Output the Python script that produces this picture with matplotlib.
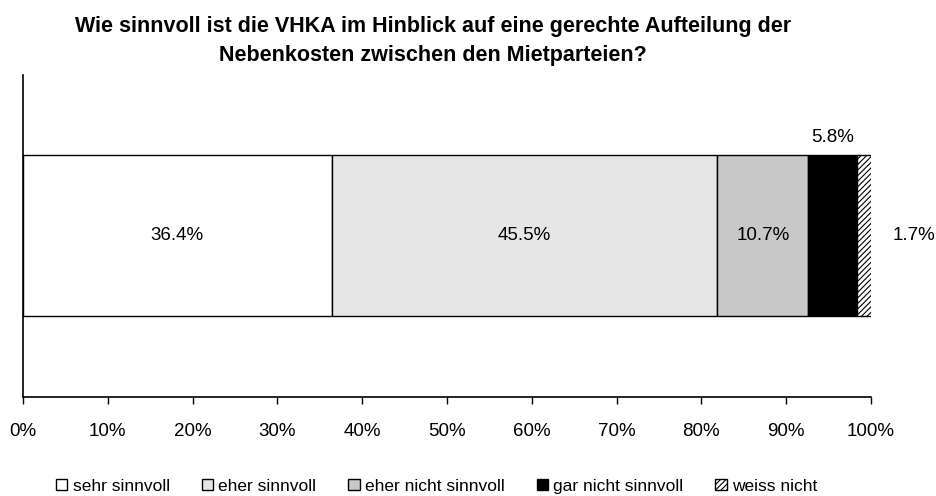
import matplotlib.pyplot as plt
from matplotlib.ticker import PercentFormatter

plt.rcParams['font.family'] = ['Liberation Sans', 'DejaVu Sans']
plt.rcParams['hatch.linewidth'] = 0.8

# Antworten und Anteile (Prozent)
kategorien = ['sehr sinnvoll', 'eher sinnvoll', 'eher nicht sinnvoll',
              'gar nicht sinnvoll', 'weiss nicht']
anteile = [36.4, 45.5, 10.7, 5.8, 1.7]
farben = ['#ffffff', '#e6e6e6', '#c8c8c8', '#000000', '#ffffff']
muster = ['', '', '', '', '//////']

fig = plt.figure(figsize=(9.37, 4.96), dpi=100)
ax = fig.add_axes([0.0245, 0.2, 0.905, 0.649])

links = 0.0
for name, wert, farbe, m in zip(kategorien, anteile, farben, muster):
    ax.barh(0, wert, left=links, height=1.0, color=farbe, edgecolor='black',
            linewidth=1.0, hatch=m, label=name)
    mitte = links + wert / 2
    if wert > 8:
        ax.text(mitte, 0, f'{wert:.1f}%', ha='center', va='center', fontsize=13.5)
    elif name == 'gar nicht sinnvoll':
        ax.text(mitte, 0.56, f'{wert:.1f}%', ha='center', va='bottom', fontsize=13.5)
    else:
        ax.text(links + wert + 5.0, 0, f'{wert:.1f}%', ha='center', va='center', fontsize=13.5)
    links += wert

ax.set_xlim(0, 100)
ax.set_ylim(-1.0, 1.0)
ax.set_xticks(range(0, 101, 10))
ax.xaxis.set_major_formatter(PercentFormatter(decimals=0))
ax.set_yticks([])
ax.tick_params(axis='x', direction='out', length=5, width=1, pad=14, labelsize=13.5)
ax.spines['top'].set_visible(False)
ax.spines['right'].set_visible(False)
ax.spines['left'].set_linewidth(1.2)
ax.spines['bottom'].set_linewidth(1.2)

fig.suptitle('Wie sinnvoll ist die VHKA im Hinblick auf eine gerechte Aufteilung der\n'
             'Nebenkosten zwischen den Mietparteien?',
             x=0.462, y=0.968, fontsize=15.5, fontweight='bold', linespacing=1.5)

fig.legend(loc='center', bbox_to_anchor=(0.466, 0.02), ncol=5, frameon=False,
           fontsize=12.5, handlelength=0.65, handleheight=0.65, handletextpad=0.3,
           columnspacing=1.85, borderpad=0)

fig.savefig('out.png', dpi=100)
